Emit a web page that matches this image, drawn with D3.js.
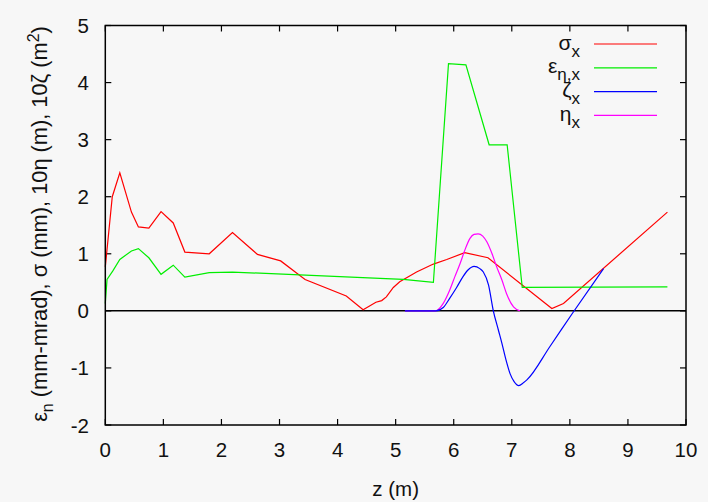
<!DOCTYPE html>
<html>
<head>
<meta charset="utf-8">
<script src="https://cdn.jsdelivr.net/npm/d3@7"></script>
<style>
  body { margin: 0; background: #f7f7f7; }
  svg { display: block; font-family: "Liberation Sans", Arial, sans-serif; }
</style>
</head>
<body>
<svg id="chart"></svg>
<script>
// sigma_x (mm)
const sigmaZ = [0, 0.12, 0.25, 0.45, 0.57, 0.75, 0.96, 1.17, 1.37, 1.79, 2.19, 2.62, 3.02, 3.44, 4.15, 4.44, 4.66, 4.76, 4.84, 4.96, 5.07, 5.36, 5.65, 5.88, 6.19, 6.59, 7.69, 7.89, 9.68];
const sigmaV = [0.77, 2.0, 2.42, 1.73, 1.47, 1.45, 1.74, 1.54, 1.03, 1.0, 1.37, 0.99, 0.875, 0.55, 0.26, 0.02, 0.15, 0.18, 0.245, 0.41, 0.51, 0.68, 0.82, 0.9, 1.02, 0.93, 0.04, 0.13, 1.73];

// emittance eps_{eta,x} (mm-mrad)
const epsZ = [0, 0.03, 0.13, 0.25, 0.45, 0.57, 0.75, 0.96, 1.17, 1.37, 1.79, 2.19, 4.73, 5.13, 5.65, 5.91, 6.21, 6.61, 6.92, 7.18, 9.68];
const epsV = [0.13, 0.55, 0.7, 0.9, 1.05, 1.09, 0.93, 0.64, 0.8, 0.59, 0.67, 0.68, 0.57, 0.55, 0.5, 4.33, 4.31, 2.91, 2.91, 0.41, 0.42];

// 10 zeta_x (m^2)
const zetaZ = [5.16, 5.69, 5.82, 5.93, 6.05, 6.16, 6.25, 6.35, 6.45, 6.51, 6.60, 6.68, 6.77, 6.83, 6.90, 6.97, 7.04, 7.12, 7.20, 7.26, 7.66, 8.06, 8.58];
const zetaV = [0, 0, 0.06, 0.22, 0.41, 0.6, 0.72, 0.78, 0.74, 0.68, 0.45, 0.01, -0.34, -0.57, -0.86, -1.1, -1.24, -1.31, -1.26, -1.21, -0.62, -0.02, 0.74];

// 10 eta_x (m)
const etaZ = [5.16, 5.69, 5.82, 5.93, 6.02, 6.11, 6.19, 6.28, 6.35, 6.42, 6.50, 6.57, 6.66, 6.74, 6.83, 6.91, 7.03, 7.14];
const etaV = [0, 0, 0.13, 0.36, 0.6, 0.83, 1.06, 1.27, 1.34, 1.35, 1.31, 1.21, 1.0, 0.77, 0.54, 0.3, 0.07, 0];

const xTicks = [0, 1, 2, 3, 4, 5, 6, 7, 8, 9, 10];
const yTicks = [-2, -1, 0, 1, 2, 3, 4, 5];

const width = 708, height = 502;
const margin = { top: 25.5, right: 22, bottom: 77, left: 105.3 };

const svg = d3.select("#chart").attr("width", width).attr("height", height);
svg.append("rect").attr("width", width).attr("height", height).attr("fill", "#f7f7f7");

const x = d3.scaleLinear().domain([0, 10]).range([margin.left, width - margin.right]);
const y = d3.scaleLinear().domain([-2, 5]).range([height - margin.bottom, margin.top]);

const tickLen = 6;
const frame = svg.append("g").attr("stroke", "#000").attr("stroke-width", 1.2);

// mirrored inward ticks, gnuplot style
xTicks.forEach(t => {
    frame.append("line").attr("x1", x(t)).attr("x2", x(t))
        .attr("y1", y(-2)).attr("y2", y(-2) - tickLen);
    frame.append("line").attr("x1", x(t)).attr("x2", x(t))
        .attr("y1", y(5)).attr("y2", y(5) + tickLen);
});
yTicks.forEach(t => {
    frame.append("line").attr("x1", x(0)).attr("x2", x(0) + tickLen)
        .attr("y1", y(t)).attr("y2", y(t));
    frame.append("line").attr("x1", x(10)).attr("x2", x(10) - tickLen)
        .attr("y1", y(t)).attr("y2", y(t));
});

// zero line
svg.append("line")
    .attr("x1", x(0)).attr("x2", x(10)).attr("y1", y(0)).attr("y2", y(0))
    .attr("stroke", "#000").attr("stroke-width", 1.5);

// tick labels
svg.append("g").selectAll("text").data(xTicks).join("text")
    .attr("x", d => x(d)).attr("y", 457)
    .attr("text-anchor", "middle").attr("font-size", 20.5).attr("fill", "#111")
    .text(d => d);
svg.append("g").selectAll("text").data(yTicks).join("text")
    .attr("x", 89).attr("y", d => y(d) + 7.5)
    .attr("text-anchor", "end").attr("font-size", 20.5).attr("fill", "#111")
    .text(d => d);

// axis titles
svg.append("text").attr("x", (x(0) + x(10)) / 2).attr("y", 496)
    .attr("text-anchor", "middle").attr("font-size", 20.5).attr("fill", "#111")
    .text("z (m)");

const yt = svg.append("text")
    .attr("transform", `translate(47, 224) rotate(-90)`)
    .attr("text-anchor", "middle").attr("font-size", 21.8).attr("fill", "#111");
yt.append("tspan").text("ε");
yt.append("tspan").attr("dy", 6).attr("font-size", 16).text("n");
yt.append("tspan").attr("dy", -6).text(" (mm-mrad), σ (mm), 10η (m), 10ζ (m");
yt.append("tspan").attr("dy", -8).attr("font-size", 16).text("2");
yt.append("tspan").attr("dy", 8).text(")");

// series
const series = [
    { z: sigmaZ, v: sigmaV, color: "#ff0000", curve: d3.curveLinear },
    { z: epsZ, v: epsV, color: "#00ee00", curve: d3.curveLinear },
    { z: etaZ, v: etaV, color: "#ff00ff", curve: d3.curveMonotoneX },
    { z: zetaZ, v: zetaV, color: "#0000ff", curve: d3.curveMonotoneX }
];

series.forEach(s => {
    const line = d3.line().x(i => x(s.z[i])).y(i => y(s.v[i])).curve(s.curve);
    svg.append("path")
        .attr("d", line(d3.range(s.z.length)))
        .attr("fill", "none").attr("stroke", s.color).attr("stroke-width", 1.2);
});

// frame drawn on top
svg.append("rect")
    .attr("x", x(0)).attr("y", y(5))
    .attr("width", x(10) - x(0)).attr("height", y(-2) - y(5))
    .attr("fill", "none").attr("stroke", "#000").attr("stroke-width", 1.5);

// legend
const legend = [
    { main: "σ", sub: "x", color: "#ff0000" },
    { main: "ε", sub: "η,x", color: "#00ee00" },
    { main: "ζ", sub: "x", color: "#0000ff" },
    { main: "η", sub: "x", color: "#ff00ff" }
];
legend.forEach((d, i) => {
    const ly = 44 + i * 23.8;
    svg.append("line").attr("x1", 594).attr("x2", 657).attr("y1", ly).attr("y2", ly)
        .attr("stroke", d.color).attr("stroke-width", 1.2);
    const t = svg.append("text").attr("x", 580).attr("y", ly + 5.5)
        .attr("text-anchor", "end").attr("font-size", 21).attr("fill", "#111");
    t.append("tspan").text(d.main);
    t.append("tspan").attr("dy", 7).attr("font-size", 17).text(d.sub);
});
</script>
</body>
</html>
